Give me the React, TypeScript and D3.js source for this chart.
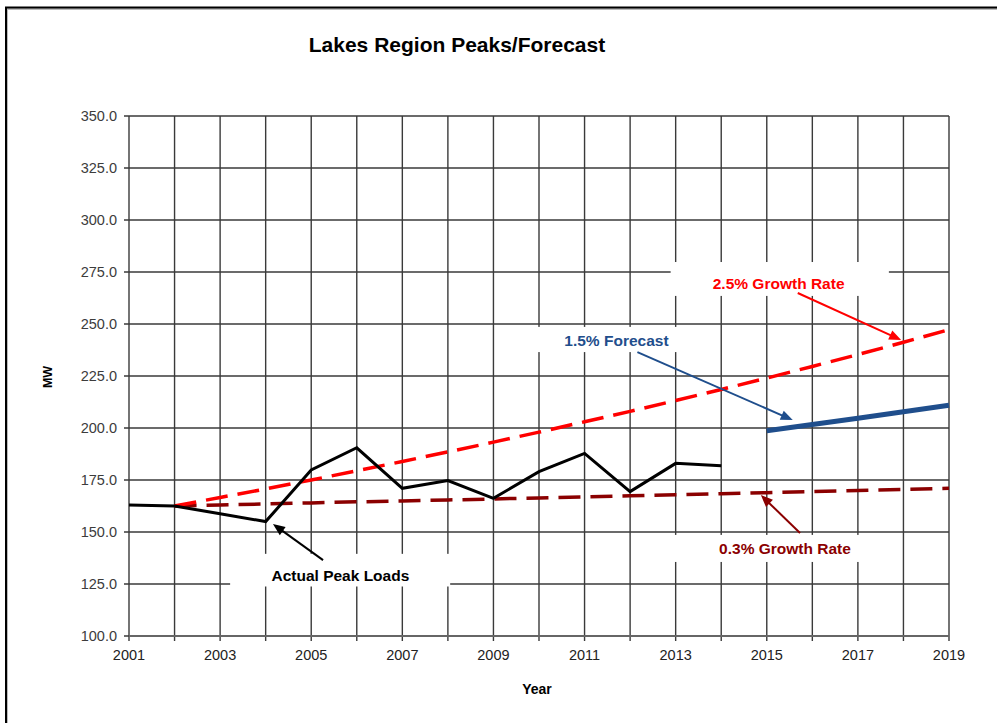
import React from "react";
import * as d3 from "d3";

// ---------- data ----------
const actualYears = [2001, 2002, 2003, 2004, 2005, 2006, 2007, 2008, 2009, 2010, 2011, 2012, 2013, 2014];
const actualPeaks = [163.0, 162.5, 158.8, 155.0, 179.8, 190.5, 171.0, 174.7, 166.2, 179.0, 187.8, 169.4, 183.0, 181.9];

const growthYears = [2002, 2003, 2004, 2005, 2006, 2007, 2008, 2009, 2010, 2011, 2012, 2013, 2014, 2015, 2016, 2017, 2018, 2019];
const growth25 = [162.5, 166.6, 170.7, 175.0, 179.4, 183.9, 188.5, 193.2, 198.0, 203.0, 208.0, 213.2, 218.5, 224.0, 229.6, 235.3, 241.2, 247.3];
const growth03 = [162.5, 163.0, 163.5, 164.0, 164.5, 164.9, 165.4, 165.9, 166.4, 166.9, 167.4, 167.9, 168.4, 168.9, 169.5, 170.0, 170.5, 171.0];

const forecastYears = [2015, 2016, 2017, 2018, 2019];
const forecast15 = [198.7, 201.7, 204.7, 207.8, 210.9];

const xTickLabels = ["2001", "2003", "2005", "2007", "2009", "2011", "2013", "2015", "2017", "2019"];
const yTickValues = [100, 125, 150, 175, 200, 225, 250, 275, 300, 325, 350];

const chartTitle = "Lakes Region Peaks/Forecast";
const xTitle = "Year";
const yTitle = "MW";

// annotations: text, text centre, arrow start, arrow tip, white box [x0, x1, yTop, yBottom] (data units)
const annotations = [
  { text: "Actual Peak Loads", color: "#000000", tx: 2005.64, ty: 129.3, x0: 2005.26, y0: 136.5, x1: 2004.16, y1: 153.8, box: [2003.22, 2008.05, 139.5, 123.8] },
  { text: "2.5% Growth Rate", color: "#ff0000", tx: 2015.26, ty: 269.7, x0: 2015.68, y0: 264.9, x1: 2017.95, y1: 242.3, box: [2012.89, 2017.68, 279.8, 263.5] },
  { text: "1.5% Forecast", color: "#1f4e8c", tx: 2011.7, ty: 242.3, x0: 2012.16, y0: 236.5, x1: 2015.57, y1: 203.8, box: [2009.59, 2013.33, 248.6, 236.5] },
  { text: "0.3% Growth Rate", color: "#8b0000", tx: 2015.4, ty: 142.3, x0: 2015.73, y0: 149.5, x1: 2014.87, y1: 167.8, box: [2012.89, 2017.5, 148.6, 135.6] },
];

const W = 997;
const H = 723;
const M = { left: 129, right: 949, top: 116, bottom: 636 };

export default function App() {
  const x = d3.scaleLinear().domain([2001, 2019]).range([M.left, M.right]);
  const y = d3.scaleLinear().domain([100, 350]).range([M.bottom, M.top]);
  const yearGrid = d3.range(2001, 2020);

  const line = d3
    .line<[number, number]>()
    .x((d) => x(d[0]))
    .y((d) => y(d[1]));

  const zip = (xs: number[], ys: number[]) => xs.map((v, i) => [v, ys[i]] as [number, number]);

  const font = "'Liberation Sans', Arial, sans-serif";
  const gridColor = "#3a3a3a";

  const arrowHead = (a: (typeof annotations)[number], len = 12, half = 5) => {
    const px1 = x(a.x1), py1 = y(a.y1), px0 = x(a.x0), py0 = y(a.y0);
    const ang = Math.atan2(py1 - py0, px1 - px0);
    const bx = px1 - len * Math.cos(ang), by = py1 - len * Math.sin(ang);
    const nx = -Math.sin(ang) * half, ny = Math.cos(ang) * half;
    return `M${px1},${py1}L${bx + nx},${by + ny}L${bx - nx},${by - ny}Z`;
  };
  const arrowShaft = (a: (typeof annotations)[number], len = 10) => {
    const px1 = x(a.x1), py1 = y(a.y1), px0 = x(a.x0), py0 = y(a.y0);
    const ang = Math.atan2(py1 - py0, px1 - px0);
    return `M${px0},${py0}L${px1 - len * Math.cos(ang)},${py1 - len * Math.sin(ang)}`;
  };

  return (
    <div style={{ position: "absolute", left: 0, top: 0 }}>
      <svg width={W} height={H} style={{ display: "block", background: "#fff" }}>
        {/* outer frame */}
        <path d={`M7,${H + 5}V9H${W + 5}`} fill="none" stroke="#bbb" strokeWidth={2} />
        <path d={`M6,${H + 5}V7.5H${W + 5}`} fill="none" stroke="#000" strokeWidth={2} />

        <text x={457} y={52} textAnchor="middle" fontFamily={font} fontWeight="bold" fontSize={21} fill="#000">
          {chartTitle}
        </text>

        {/* grid */}
        <g stroke={gridColor} strokeWidth={1.4}>
          {yTickValues.map((v) => (
            <line key={"h" + v} x1={M.left - 5} x2={M.right} y1={y(v)} y2={y(v)} />
          ))}
          {yearGrid.map((yr) => (
            <line key={"v" + yr} x1={x(yr)} x2={x(yr)} y1={M.top} y2={M.bottom + 5} />
          ))}
        </g>
        <line x1={M.left} x2={M.right} y1={y(100)} y2={y(100)} stroke="#666" strokeWidth={2} />

        {/* label boxes hiding grid */}
        {annotations.map((a) => (
          <rect
            key={"b" + a.text}
            x={x(a.box[0])}
            y={y(a.box[2])}
            width={x(a.box[1]) - x(a.box[0])}
            height={y(a.box[3]) - y(a.box[2])}
            fill="#fff"
          />
        ))}

        {/* axis labels */}
        {yTickValues.map((v) => (
          <text key={"yl" + v} x={117} y={y(v) + 5} textAnchor="end" fontFamily={font} fontSize={14.5} fill="#3c3c3c">
            {d3.format(".1f")(v)}
          </text>
        ))}
        {xTickLabels.map((t) => (
          <text key={"xl" + t} x={x(+t)} y={660} textAnchor="middle" fontFamily={font} fontSize={14.5} fill="#222">
            {t}
          </text>
        ))}
        <text x={537} y={694} textAnchor="middle" fontFamily={font} fontWeight="bold" fontSize={14} fill="#000">
          {xTitle}
        </text>
        <text
          transform={`translate(52,377) rotate(-90)`}
          textAnchor="middle"
          fontFamily={font}
          fontWeight="bold"
          fontSize={12.5}
          fill="#000"
        >
          {yTitle}
        </text>

        {/* series */}
        <path d={line(zip(growthYears, growth03)) || ""} fill="none" stroke="#8b0000" strokeWidth={3.5} strokeDasharray="22 10" />
        <path d={line(zip(growthYears, growth25)) || ""} fill="none" stroke="#ff0000" strokeWidth={3.5} strokeDasharray="22 10" />
        <path d={line(zip(actualYears, actualPeaks)) || ""} fill="none" stroke="#000" strokeWidth={3} strokeLinejoin="miter" />
        <path d={line(zip(forecastYears, forecast15)) || ""} fill="none" stroke="#1f4e8c" strokeWidth={5} />

        {/* annotations */}
        {annotations.map((a) => (
          <g key={"a" + a.text}>
            <path d={arrowShaft(a)} stroke={a.color} strokeWidth={2} fill="none" />
            <path d={arrowHead(a)} fill={a.color} />
            <text x={x(a.tx)} y={y(a.ty) + 5.5} textAnchor="middle" fontFamily={font} fontWeight="bold" fontSize={15.5} fill={a.color}>
              {a.text}
            </text>
          </g>
        ))}
      </svg>
    </div>
  );
}
